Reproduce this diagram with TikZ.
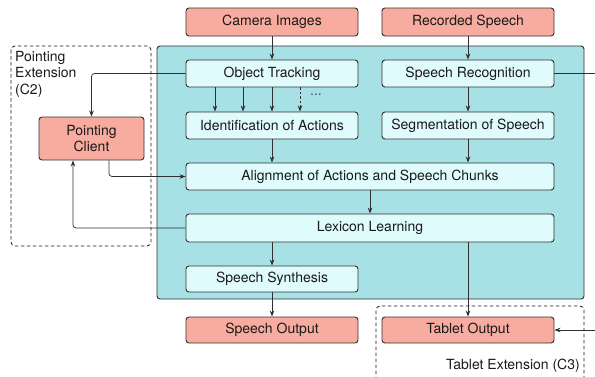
\documentclass[tikz,border=0pt]{standalone}
\usepackage{fontspec}
\setmainfont{TeX Gyre Heros}
\usetikzlibrary{arrows.meta}
\definecolor{salmon}{HTML}{F8AC9F}
\definecolor{icecyan}{HTML}{E0FBFC}
\definecolor{tealbg}{HTML}{A7E1E6}
\definecolor{edge}{HTML}{303030}
\tikzset{
  block/.style={draw=edge, line width=0.9pt, rounded corners=3pt, inner sep=0pt,
    minimum width=172pt, minimum height=27pt, font=\fontsize{14}{15.5}\selectfont, text=black!90},
  iobox/.style={block, fill=salmon},
  stagebox/.style={block, fill=icecyan},
  conn/.style={draw=edge, line width=0.75pt, -{Stealth[length=6pt,width=4.5pt]}},
  plainconn/.style={draw=edge, line width=0.75pt},
  extbox/.style={draw=black!90, line width=0.8pt, dash pattern=on 3.5pt off 2.5pt, rounded corners=4pt},
  lbl/.style={font=\fontsize{14}{16.5}\selectfont, text=black!90, inner sep=0pt}
}
\begin{document}
\begin{tikzpicture}[x=1pt,y=-1pt]
\useasboundingbox (0,0) rectangle (595,376);

% extension frames
\draw[extbox] (11,46) rectangle (151,246);
\draw[extbox] (376,380) |- (584,306) -- (584,380);
\node[lbl, anchor=north west, align=left] (ptext) at (15,51) {Pointing\\Extension\\(C2)};
\node[lbl, anchor=south east] (ttext) at (580,373) {Tablet Extension (C3)};

% core system panel
\draw[draw=edge, line width=0.9pt, fill=tealbg, rounded corners=3pt] (157,46) rectangle (584,299);

% inputs
\node[iobox, minimum height=28pt] (cam) at (272,22) {Camera Images};
\node[iobox, minimum height=28pt] (rec) at (468,22) {Recorded Speech};

% processing stages
\node[stagebox] (track) at (272,73.5) {Object Tracking};
\node[stagebox] (srec) at (468,73.5) {Speech Recognition};
\node[stagebox] (ident) at (272,125.5) {Identification of Actions};
\node[stagebox] (seg) at (468,125.5) {Segmentation of Speech};
\node[stagebox, minimum width=368pt] (align) at (370,176.5) {Alignment of Actions and Speech Chunks};
\node[stagebox, minimum width=368pt, minimum height=28pt] (lex) at (370,228) {Lexicon Learning};
\node[stagebox, minimum height=26pt] (synth) at (272,279) {Speech Synthesis};

% outputs
\node[iobox, minimum height=26pt] (sout) at (272,330) {Speech Output};
\node[iobox, minimum height=26pt] (tout) at (468,330) {Tablet Output};

% pointing client
\node[iobox, minimum width=105pt, minimum height=43pt, align=center] (point) at (91.5,138.5) {Pointing\\Client};

% main flow
\draw[conn] (cam) -- (track);
\draw[conn] (rec) -- (srec);
\draw[conn] (track.south -| 215,0) -- (ident.north -| 215,0);
\draw[conn] (track.south -| 243,0) -- (ident.north -| 243,0);
\draw[conn] (track) -- (ident);
\draw[conn, dash pattern=on 2.5pt off 2pt] (track.south -| 300,0) -- (ident.north -| 300,0);
\node[lbl, text=black!70] (more) at (316,95) {...};
\draw[conn] (srec) -- (seg);
\draw[conn] (ident) -- (align.north -| ident);
\draw[conn] (seg) -- (align.north -| seg);
\draw[conn] (align) -- (lex);
\draw[conn] (lex.south -| synth) -- (synth);
\draw[conn] (synth) -- (sout);
\draw[conn] (lex.south -| tout) -- (tout);

% pointing extension links
\draw[conn, rounded corners=3pt] (track.west) -| (point.north);
\draw[conn, rounded corners=3pt] (point.south -| 109,0) |- (align.west);
\draw[conn, rounded corners=3pt] (lex.west) -| (point.south -| 73,0);

% tablet extension links
\coordinate (srecout) at (595,73.5);
\coordinate (tabin) at (595,330);
\draw[plainconn] (srec.east) -- (srecout);
\draw[conn] (tabin) -- (tout.east);
\end{tikzpicture}
\end{document}
